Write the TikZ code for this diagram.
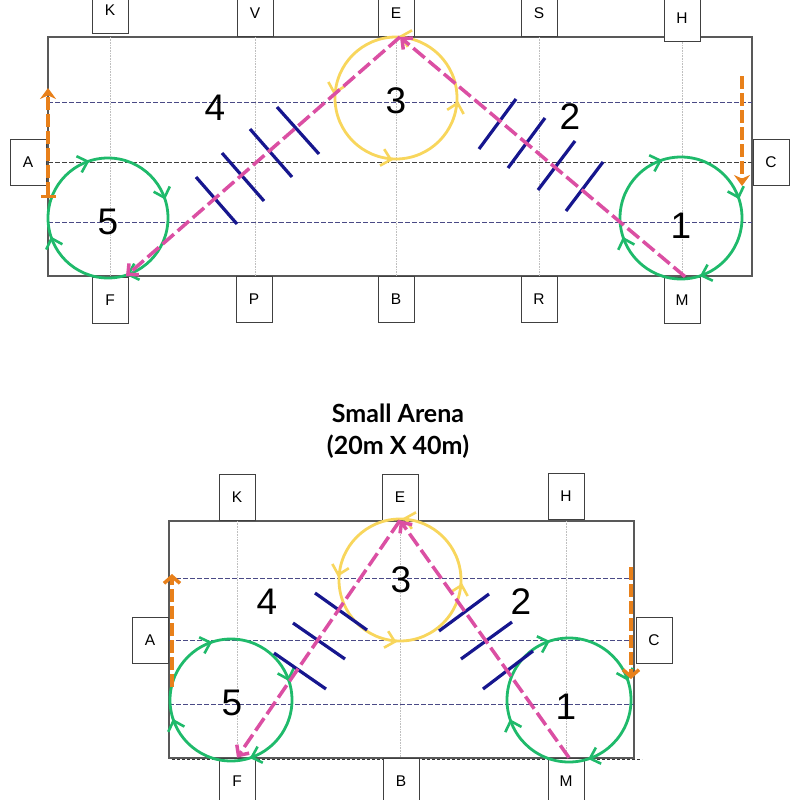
\documentclass[tikz,border=0pt]{standalone}
\usepackage{fontspec}
\setmainfont{Liberation Sans}
\newfontfamily\titlefont{Lato}
\usetikzlibrary{arrows.meta,decorations.markings}

\definecolor{ringgreen}{HTML}{1FBA6B}
\definecolor{ringyellow}{HTML}{F8D65C}
\definecolor{linepink}{HTML}{DB4FA3}
\definecolor{polenavy}{HTML}{16168E}
\definecolor{legorange}{HTML}{E8801A}
\definecolor{quarterline}{HTML}{4A4A86}

\begin{document}
\begin{tikzpicture}[x=1pt, y=-1pt,
    letterbox/.style={draw=black!75, fill=white, line width=0.8pt, minimum width=36pt, minimum height=46pt, inner sep=0pt, font=\fontsize{15.5}{15.5}\selectfont},
    figure/.style={font=\fontsize{37}{37}\selectfont},
    arena/.style={draw=black!65, fill=white, line width=1.1pt},
    centreline/.style={draw=black!25, line width=0.6pt, densely dotted},
    quarter/.style={draw=quarterline, line width=0.7pt, dash pattern=on 5pt off 2pt},
    diagonal/.style={draw=linepink, line width=3.5pt, dash pattern=on 15pt off 5pt, -{Straight Barb[length=8pt,width=15pt]}},
    pole/.style={draw=polenavy, line width=3.2pt},
    leg/.style={draw=legorange, line width=3.5pt, dash pattern=on 13pt off 4pt},
    greenloop/.style={draw=ringgreen, line width=2.8pt, postaction={decorate, decoration={markings,
        mark=between positions 0.2 and 0.95 step 0.25 with {\arrow{Straight Barb[length=9pt,width=17pt,line width=2.6pt,color=ringgreen]}}}}},
    yellowloop/.style={draw=ringyellow, line width=2.8pt, postaction={decorate, decoration={markings,
        mark=between positions 0.04 and 0.8 step 0.25 with {\arrow{Straight Barb[length=9pt,width=17pt,line width=2.6pt,color=ringyellow,reversed]}}}}}
  ]
  \useasboundingbox (0,0) rectangle (800,800);

  % large arena
  \draw[arena] (48,37) rectangle (752,276);
  \foreach \x in {110,255,396,539,682}
    \draw[centreline] (\x,37) -- (\x,276);
  \draw[quarter] (48,102) -- (752,102);
  \draw[quarter, draw=black!75] (48,162) -- (752,162);
  \draw[quarter] (48,222) -- (752,222);

  \node[letterbox] (kT) at (110,10) {K};
  \node[letterbox] (vT) at (255,13) {V};
  \node[letterbox] (eT) at (396,13) {E};
  \node[letterbox] (sT) at (539,13) {S};
  \node[letterbox] (hT) at (682,18) {H};
  \node[letterbox] (aT) at (28,162) {A};
  \node[letterbox] (cT) at (771,162) {C};
  \node[letterbox] (fT) at (110,300) {F};
  \node[letterbox] (pT) at (254,299) {P};
  \node[letterbox] (bT) at (396,299) {B};
  \node[letterbox] (rT) at (539,299) {R};
  \node[letterbox] (mT) at (682,300) {M};

  \draw[greenloop] (108,218) circle (60);
  \draw[greenloop] (681,218) circle (61);
  \draw[yellowloop] (396,98) circle (61);

  \draw[pole] (196,177) -- (237,224);
  \draw[pole] (222,153) -- (264,201);
  \draw[pole] (250,129) -- (292,177);
  \draw[pole] (277,107) -- (319,154);
  \draw[pole] (479,149) -- (516,99);
  \draw[pole] (508,168) -- (545,118);
  \draw[pole] (538,190) -- (575,141);
  \draw[pole] (566,211) -- (603,162);

  \coordinate (apexT) at (400,37);
  \coordinate (startT) at (126,276);
  \draw[diagonal] ([xshift=3pt]mT.north) -- (apexT);
  \draw[diagonal] (apexT) -- (startT);

  \draw[leg, {Bar[width=15pt]}-{Stealth[length=11pt,width=16pt]}] (48,198) -- (48,88);
  \draw[leg, -{Stealth[length=11pt,width=16pt]}] (742,76) -- (742,186);

  \node[figure] (n4T) at (215,108) {4};
  \node[figure] (n3T) at (396,101) {3};
  \node[figure] (n2T) at (570,117) {2};
  \node[figure] (n5T) at (108,222) {5};
  \node[figure] (n1T) at (681,226) {1};

  % small arena
  \node[font=\titlefont\bfseries\fontsize{25}{32}\selectfont, align=center] (title) at (398,431) {Small Arena\\(20m X 40m)};

  \draw[arena] (169,521) rectangle (634,758);
  \draw[densely dashed, draw=black!80, line width=0.8pt] (172,759) -- (642,759);
  \foreach \x in {237,400,566}
    \draw[centreline] (\x,521) -- (\x,758);
  \draw[quarter] (169,578) -- (634,578);
  \draw[quarter] (169,640) -- (634,640);
  \draw[quarter] (169,704) -- (634,704);

  \node[letterbox] (kS) at (237,497) {K};
  \node[letterbox] (eS) at (400,497) {E};
  \node[letterbox] (hS) at (566,496) {H};
  \node[letterbox] (aS) at (150,640) {A};
  \node[letterbox] (cS) at (654,640) {C};
  \node[letterbox] (fS) at (237,781) {F};
  \node[letterbox] (bS) at (401,781) {B};
  \node[letterbox] (mS) at (566,781) {M};

  \draw[greenloop] (231,700) circle (61);
  \draw[greenloop] (569,700) circle (62);
  \draw[yellowloop] (400,580) circle (61);

  \draw[pole] (274,653) -- (326,689);
  \draw[pole] (293,623) -- (345,659);
  \draw[pole] (315,593) -- (367,630);
  \draw[pole] (439,631) -- (489,594);
  \draw[pole] (461,659) -- (512,622);
  \draw[pole] (483,689) -- (533,651);

  \draw[diagonal] ([xshift=3pt]mS.north) -- (eS.south);
  \draw[diagonal] (eS.south) -- (fS.north);

  \draw[leg, -{Straight Barb[length=7pt,width=16pt]}] (172,687) -- (172,574);
  \draw[leg, -{Straight Barb[length=7pt,width=16pt]}] (631,567) -- (631,679);

  \node[figure] (n4S) at (267,602) {4};
  \node[figure] (n3S) at (401,580) {3};
  \node[figure] (n2S) at (521,602) {2};
  \node[figure] (n5S) at (232,703) {5};
  \node[figure] (n1S) at (566,707) {1};
\end{tikzpicture}
\end{document}
